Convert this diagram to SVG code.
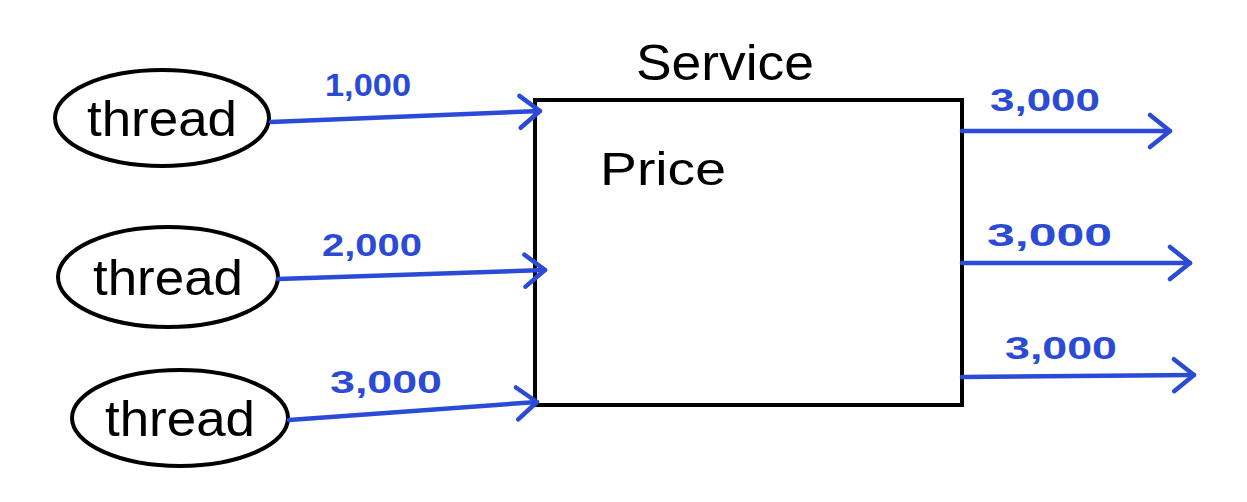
<svg xmlns="http://www.w3.org/2000/svg" width="1247" height="502" viewBox="0 0 1247 502">
<style>
.node{fill:none;stroke:#000;stroke-width:4}
.box{fill:none;stroke:#000;stroke-width:4}
.ntext{font-family:"Liberation Sans",Arial,sans-serif;font-size:50px;fill:#000}
.btext{font-family:"Liberation Sans",Arial,sans-serif;fill:#000}
.conn{stroke:#2b4bd6;stroke-width:4.5;stroke-linecap:round;fill:none}
.lbl{font-family:"Liberation Sans",Arial,sans-serif;font-size:31px;fill:#2b4bd6;font-weight:bold}
</style>
<defs>
<marker id="arr" markerUnits="userSpaceOnUse" markerWidth="44" markerHeight="44" refX="32" refY="22" orient="auto" viewBox="0 0 44 44">
<path d="M12,6 L32,22 L12,38" fill="none" stroke="#2b4bd6" stroke-width="4.5" stroke-linecap="round" stroke-linejoin="round"/>
</marker>
</defs>
<g id="thread1">
<ellipse class="node" cx="162" cy="118" rx="107" ry="48"/>
<text class="ntext" x="162" y="136" text-anchor="middle" textLength="150" lengthAdjust="spacingAndGlyphs">thread</text>
</g>
<g id="thread2">
<ellipse class="node" cx="168" cy="277" rx="110" ry="50"/>
<text class="ntext" x="168" y="295" text-anchor="middle" textLength="150" lengthAdjust="spacingAndGlyphs">thread</text>
</g>
<g id="thread3">
<ellipse class="node" cx="180" cy="418" rx="108" ry="48"/>
<text class="ntext" x="180" y="436" text-anchor="middle" textLength="150" lengthAdjust="spacingAndGlyphs">thread</text>
</g>
<g id="service">
<rect class="box" x="535" y="100" width="427" height="305"/>
<text class="btext" x="636" y="80" font-size="50" textLength="178" lengthAdjust="spacingAndGlyphs">Service</text>
<text class="btext" x="600" y="185" font-size="46" textLength="126" lengthAdjust="spacingAndGlyphs">Price</text>
</g>
<g id="connectors">
<line class="conn" x1="271" y1="122" x2="540" y2="111" marker-end="url(#arr)"/>
<line class="conn" x1="278" y1="279" x2="545" y2="270" marker-end="url(#arr)"/>
<line class="conn" x1="289" y1="420" x2="537" y2="402" marker-end="url(#arr)"/>
<line class="conn" x1="962" y1="131" x2="1170" y2="131" marker-end="url(#arr)"/>
<line class="conn" x1="962" y1="263" x2="1190" y2="263" marker-end="url(#arr)"/>
<line class="conn" x1="962" y1="377" x2="1194" y2="375" marker-end="url(#arr)"/>
<text class="lbl" x="325" y="96" textLength="86" lengthAdjust="spacingAndGlyphs">1,000</text>
<text class="lbl" x="322" y="256" textLength="100" lengthAdjust="spacingAndGlyphs">2,000</text>
<text class="lbl" x="330" y="393" textLength="112" lengthAdjust="spacingAndGlyphs">3,000</text>
<text class="lbl" x="990" y="111" textLength="110" lengthAdjust="spacingAndGlyphs">3,000</text>
<text class="lbl" x="987" y="246" textLength="125" lengthAdjust="spacingAndGlyphs">3,000</text>
<text class="lbl" x="1005" y="359" textLength="112" lengthAdjust="spacingAndGlyphs">3,000</text>
</g>
</svg>
